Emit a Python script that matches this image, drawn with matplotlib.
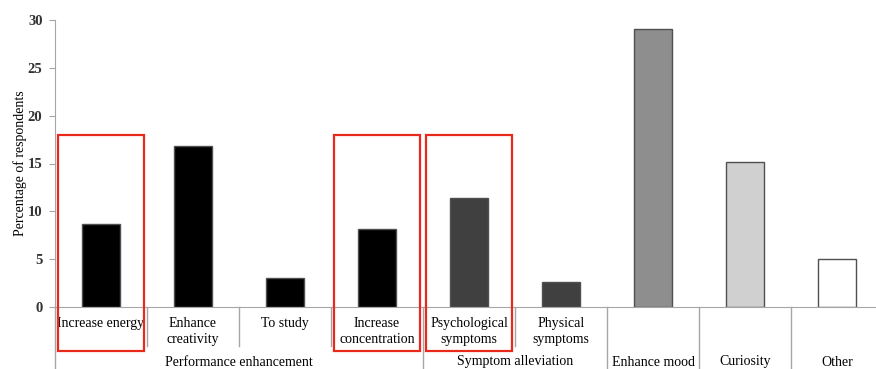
import matplotlib.pyplot as plt
from matplotlib.patches import Rectangle

# data
reasons = ['Increase energy', 'Enhance\ncreativity', 'To study', 'Increase\nconcentration',
           'Psychological\nsymptoms', 'Physical\nsymptoms', 'Enhance mood', 'Curiosity', 'Other']
percent = [8.7, 16.8, 3.0, 8.2, 11.4, 2.6, 29.1, 15.2, 5.0]
bar_colors = ['black', 'black', 'black', 'black', '#404040', '#404040', '#8e8e8e', '#d0d0d0', 'white']
groups = ['Performance enhancement', 'Symptom alleviation']
group_spans = [(0, 3), (4, 5)]   # first and last index in each group
boxed = [0, 3, 4]               # categories highlighted in red

plt.rcParams['font.family'] = ['Liberation Serif', 'DejaVu Serif']
gray = '#a6a6a6'

fig = plt.figure(figsize=(8.76, 3.69), dpi=100)
ax = fig.add_axes([55/876, 62/369, 828/876, 287/369])

x = list(range(len(percent)))
ax.bar(x, percent, width=0.41, color=bar_colors, edgecolor='#505050', linewidth=1, zorder=2)

ax.set_xlim(-0.5, len(percent) - 0.5)
ax.set_ylim(0, 30)
ax.set_yticks(range(0, 31, 5))
ax.set_xticks([])
ax.tick_params(axis='y', direction='out', length=4, color=gray, labelsize=10.5, pad=5)
for lab in ax.get_yticklabels():
    lab.set_fontweight('bold')
    lab.set_color('#333333')
for s in ['top', 'right']:
    ax.spines[s].set_visible(False)
ax.spines['left'].set_color(gray)
ax.spines['bottom'].set_color(gray)
ax.set_ylabel('Percentage of respondents', fontsize=10)
ax.yaxis.set_label_coords(-28/828, 0.5)

tr = ax.get_xaxis_transform()
low_short = -39/287
low_long = -70/287

# left spine runs down past the labels
ax.plot([-0.5, -0.5], [0, low_long], transform=tr, color=gray, lw=1, clip_on=False)

# category labels + separators
group_edges = [g[1] for g in group_spans]
for i, name in enumerate(reasons):
    if i > 0:
        long_line = (i - 1) in group_edges or i > group_spans[-1][1]
        ax.plot([i - 0.5, i - 0.5], [0, low_long if long_line else low_short], transform=tr,
                color=gray, lw=1, clip_on=False)
    in_group = any(a <= i <= b for a, b in group_spans)
    if in_group:
        ax.text(i, -10/287, name, transform=tr, ha='center', va='top', fontsize=10,
                linespacing=1.3)
    else:
        ax.text(i, -55/287, name, transform=tr, ha='center', va='center', fontsize=10)

for name, (a, b) in zip(groups, group_spans):
    ax.text((a + b) / 2, -55/287, name, transform=tr, ha='center', va='center', fontsize=10)

# red highlight boxes
for i in boxed:
    ax.add_patch(Rectangle((i - 0.47, -4.6), 0.94, 22.6, fill=False, edgecolor='#e8291c',
                           lw=1.6, clip_on=False, zorder=3))

fig.savefig('out.png', dpi=100)
